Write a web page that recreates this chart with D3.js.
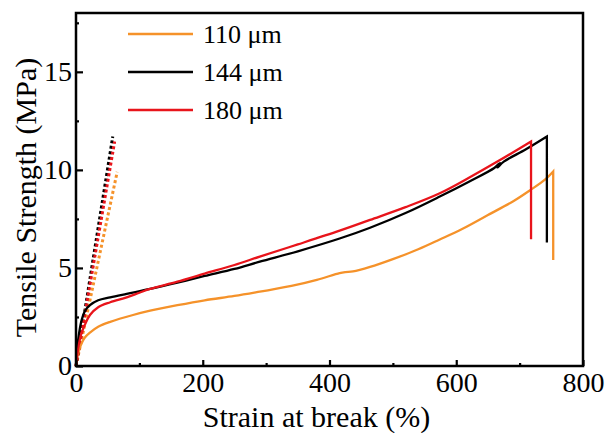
<!DOCTYPE html>
<html>
<head>
<meta charset="utf-8">
<script src="https://cdn.jsdelivr.net/npm/d3@7/dist/d3.min.js"></script>
<style>
  html, body { margin: 0; padding: 0; background: #fff; }
</style>
</head>
<body>
<svg id="chart" width="607" height="433" style="font-family:'Liberation Serif'"></svg>
<script>
const FONT = "Liberation Serif";

// Film thickness labels and colours
const seriesNames = ["110 \u03bcm", "144 \u03bcm", "180 \u03bcm"];
const seriesColors = ["#f5922a", "#000000", "#e8141b"];

// Stress-strain curves (strain %, stress MPa); the last point of each is the break drop
const strain110 = [0, 3, 8, 14, 22, 35, 54, 90, 117, 160, 203, 250, 290, 340, 380, 416, 425, 437, 464, 500, 540, 574, 610, 650, 690, 716, 740, 753, 753];
const stress110 = [0, 0.6, 1.1, 1.45, 1.7, 2.0, 2.25, 2.6, 2.82, 3.1, 3.35, 3.57, 3.79, 4.08, 4.39, 4.74, 4.79, 4.82, 5.05, 5.45, 5.95, 6.45, 7.0, 7.7, 8.4, 8.95, 9.5, 9.92, 5.4];

const strain144 = [0, 2, 5, 9, 14, 22, 35, 54, 80, 117, 160, 203, 250, 290, 350, 416, 464, 520, 574, 620, 660, 669, 665, 675, 710, 743, 743];
const stress144 = [0, 0.9, 1.7, 2.35, 2.8, 3.1, 3.35, 3.5, 3.68, 3.93, 4.25, 4.59, 4.95, 5.32, 5.85, 6.5, 7.05, 7.8, 8.64, 9.4, 10.1, 10.35, 10.12, 10.42, 11.05, 11.7, 6.3];

const strain180 = [0, 3, 8, 14, 22, 35, 54, 80, 101, 117, 160, 203, 250, 290, 350, 416, 464, 520, 574, 620, 669, 718, 718];
const stress180 = [0, 0.8, 1.6, 2.1, 2.6, 3.0, 3.25, 3.5, 3.75, 3.93, 4.3, 4.71, 5.15, 5.58, 6.2, 6.9, 7.45, 8.1, 8.81, 9.6, 10.5, 11.45, 6.46];

// Initial linear (elastic) fits, drawn dotted
const fitStrain110 = [0, 65];
const fitStress110 = [0, 9.9];
const fitStrain144 = [0, 58];
const fitStress144 = [0, 11.7];
const fitStrain180 = [0, 61];
const fitStress180 = [0, 11.45];

// Axis ticks
const xMajorTicks = [0, 200, 400, 600, 800];
const xMinorTicks = [100, 300, 500, 700];
const yMajorTicks = [0, 5, 10, 15];
const yMinorTicks = [2.5, 7.5, 12.5, 17.5];

const xTitle = "Strain at break (%)";
const yTitle = "Tensile Strength (MPa)";

const svg = d3.select("#chart");
const plot = { left: 76, right: 583, top: 13, bottom: 366 };

const x = d3.scaleLinear().domain([0, 800]).range([plot.left, plot.right]);
const y = d3.scaleLinear().domain([0, 18]).range([plot.bottom, plot.top]);

const zip = (xs, ys) => xs.map((v, i) => [v, ys[i]]);
const straight = d3.line().x(d => x(d[0])).y(d => y(d[1]));
const smooth = d3.line().x(d => x(d[0])).y(d => y(d[1])).curve(d3.curveCatmullRom.alpha(0.5));

// Smooth loading curve, then a straight vertical drop at break
const curvePath = pts => {
  const last = pts[pts.length - 1];
  return smooth(pts.slice(0, -1)) + "L" + x(last[0]) + "," + y(last[1]);
};

// Dotted elastic fits
const fits = [
  { pts: zip(fitStrain110, fitStress110), color: seriesColors[0] },
  { pts: zip(fitStrain144, fitStress144), color: seriesColors[1] },
  { pts: zip(fitStrain180, fitStress180), color: seriesColors[2] }
];
svg.append("g").selectAll("path").data(fits).join("path")
  .attr("d", d => straight(d.pts))
  .attr("fill", "none")
  .attr("stroke", d => d.color)
  .attr("stroke-width", 3)
  .attr("stroke-dasharray", "3,2.5");

// Measured curves
const curves = [
  { pts: zip(strain110, stress110), color: seriesColors[0] },
  { pts: zip(strain144, stress144), color: seriesColors[1] },
  { pts: zip(strain180, stress180), color: seriesColors[2] }
];
svg.append("g").selectAll("path").data(curves).join("path")
  .attr("d", d => curvePath(d.pts))
  .attr("fill", "none")
  .attr("stroke", d => d.color)
  .attr("stroke-width", 2.3)
  .attr("stroke-linejoin", "miter");

// Axes with inward ticks
const xAxis = svg.append("g").attr("transform", `translate(0,${plot.bottom})`);
xAxis.call(d3.axisBottom(x).tickValues(xMajorTicks).tickSize(-6).tickPadding(12).tickFormat(d3.format("d")));
xAxis.append("g").call(d3.axisBottom(x).tickValues(xMinorTicks).tickSize(-3).tickFormat(""));

const yAxis = svg.append("g").attr("transform", `translate(${plot.left},0)`);
yAxis.call(d3.axisLeft(y).tickValues(yMajorTicks).tickSize(-7).tickPadding(4).tickFormat(d3.format("d")));
yAxis.append("g").call(d3.axisLeft(y).tickValues(yMinorTicks).tickSize(-3).tickFormat(""));

svg.selectAll(".domain").remove();
svg.selectAll("g").attr("font-family", FONT).attr("font-size", null);
svg.selectAll(".tick line").attr("stroke", "#000").attr("stroke-width", 2.2);
svg.selectAll(".tick text").attr("font-family", FONT).attr("font-size", 28).attr("fill", "#000");
xAxis.selectAll(".tick text").attr("dy", "0.5em");

// Plot frame
svg.append("rect")
  .attr("x", plot.left).attr("y", plot.top)
  .attr("width", plot.right - plot.left).attr("height", plot.bottom - plot.top)
  .attr("fill", "none").attr("stroke", "#000").attr("stroke-width", 2.5);

// Axis titles
svg.append("text")
  .attr("x", (plot.left + plot.right) / 2 - 13).attr("y", 427)
  .attr("text-anchor", "middle").attr("font-family", FONT).attr("font-size", 30)
  .text(xTitle);
svg.append("text")
  .attr("transform", `translate(36,${(plot.top + plot.bottom) / 2 + 8}) rotate(-90)`)
  .attr("text-anchor", "middle").attr("font-family", FONT).attr("font-size", 30)
  .text(yTitle);

// Legend
const legend = svg.append("g");
const legendY = [34, 72, 110];
seriesNames.forEach((name, i) => {
  legend.append("line")
    .attr("x1", 128).attr("x2", 193)
    .attr("y1", legendY[i]).attr("y2", legendY[i])
    .attr("stroke", seriesColors[i]).attr("stroke-width", 2.3);
  legend.append("text")
    .attr("x", 203).attr("y", legendY[i] + 9)
    .attr("font-family", FONT).attr("font-size", 26)
    .text(name);
});
</script>
</body>
</html>
